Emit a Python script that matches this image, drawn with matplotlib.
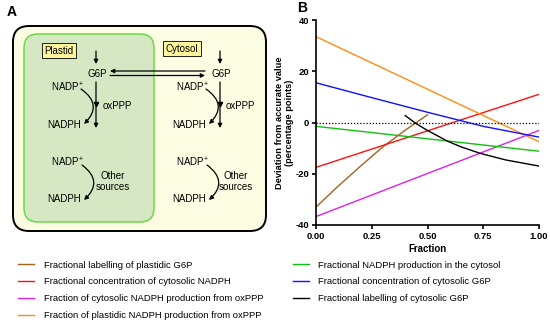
import matplotlib
matplotlib.use('Agg')
import matplotlib.pyplot as plt
from matplotlib.patches import FancyBboxPatch, FancyArrowPatch

plt.rcParams['font.family'] = ['Liberation Sans', 'DejaVu Sans']
plt.rcParams['mathtext.fontset'] = 'custom'
plt.rcParams['mathtext.rm'] = 'Liberation Sans'
plt.rcParams['mathtext.default'] = 'regular'
plt.rcParams['axes.unicode_minus'] = False

# ---- data ----
x_brown = [0.0, 0.1, 0.2, 0.3, 0.4, 0.5]
y_brown = [-33.0, -24.8, -17.0, -9.5, -3.0, 3.0]
x_red = [0.0, 1.0]
y_red = [-17.5, 11.0]
x_magenta = [0.0, 1.0]
y_magenta = [-36.7, -3.1]
x_orange = [0.0, 1.0]
y_orange = [33.5, -7.5]
x_green = [0.0, 1.0]
y_green = [-1.5, -11.2]
x_blue = [0.0, 0.25, 0.5, 0.75, 1.0]
y_blue = [15.5, 9.7, 4.0, -1.5, -5.7]
x_black = [0.40, 0.45, 0.50, 0.59, 0.65, 0.735, 0.85, 1.0]
y_black = [2.7, -0.5, -3.1, -7.3, -9.5, -12.0, -14.6, -17.0]

labels_left = ['Fractional labelling of plastidic G6P',
               'Fractional concentration of cytosolic NADPH',
               'Fraction of cytosolic NADPH production from oxPPP',
               'Fraction of plastidic NADPH production from oxPPP']
labels_right = ['Fractional NADPH production in the cytosol',
                'Fractional concentration of cytosolic G6P',
                'Fractional labelling of cytosolic G6P']

xticks = [0.0, 0.25, 0.5, 0.75, 1.0]
xticklabels = ['0.00', '0.25', '0.50', '0.75', '1.00']
yticks = [-40, -20, 0, 20, 40]

W, H = 550, 323
fig = plt.figure(figsize=(5.5, 3.23), dpi=100)

# ---- panel A: diagram drawn in pixel coordinates ----
ax0 = fig.add_axes([0, 0, 1, 1], zorder=0)
ax0.set_xlim(0, W)
ax0.set_ylim(H, 0)
ax0.axis('off')

ax0.text(7, 12, 'A', fontsize=10, fontweight='bold', va='center', ha='left')
ax0.text(297, 8, 'B', fontsize=10, fontweight='bold', va='center', ha='left')

outer = FancyBboxPatch((13, 26), 253, 205, boxstyle='round,pad=0,rounding_size=16',
                       fc='#fcfce2', ec='black', lw=1.4)
ax0.add_patch(outer)
inner = FancyBboxPatch((24, 34), 130, 188, boxstyle='round,pad=0,rounding_size=14',
                       fc='#d5e8c3', ec='#6ad84a', lw=1.1)
ax0.add_patch(inner)

ax0.text(59, 50.5, 'Plastid', fontsize=7, ha='center', va='center',
         bbox=dict(boxstyle='square,pad=0.3', fc='#fff59c', ec='black', lw=0.6))
ax0.text(182, 48.5, 'Cytosol', fontsize=7, ha='center', va='center',
         bbox=dict(boxstyle='square,pad=0.3', fc='#fff59c', ec='black', lw=0.6))

fs = 7
arrow_kw = dict(arrowstyle='-|>', color='black', lw=0.9, mutation_scale=6,
                shrinkA=0, shrinkB=0)


def pathway(cx, lx, tx):
    # incoming arrow and G6P
    ax0.annotate('', xy=(cx, 64), xytext=(cx, 51), arrowprops=arrow_kw)
    ax0.text(cx + 1, 74, 'G6P', fontsize=fs, ha='center', va='center')
    # oxPPP branch
    ax0.annotate('', xy=(cx, 128), xytext=(cx, 82), arrowprops=arrow_kw)
    ax0.plot([cx], [104], marker='v', ms=3, color='black')
    ax0.text(lx, 87, 'NADP$^{+}$', fontsize=fs, ha='center', va='center')
    ax0.text(lx - 3, 124.5, 'NADPH', fontsize=fs, ha='center', va='center')
    ax0.add_patch(FancyArrowPatch((lx + 14, 89), (lx + 17, 124),
                                  connectionstyle='arc3,rad=-0.6', **arrow_kw))
    ax0.text(tx, 106, 'oxPPP', fontsize=fs, ha='center', va='center')
    # other sources
    ax0.text(lx, 162, 'NADP$^{+}$', fontsize=fs, ha='center', va='center')
    ax0.text(lx - 3, 199.5, 'NADPH', fontsize=fs, ha='center', va='center')
    ax0.add_patch(FancyArrowPatch((lx + 15, 165), (lx + 17, 200),
                                  connectionstyle='arc3,rad=-0.6', **arrow_kw))
    ax0.text(tx - 4, 181.5, 'Other\nsources', fontsize=fs, ha='center', va='center',
             linespacing=1.05)


pathway(96, 67, 117)
pathway(220, 192, 240)

# G6P exchange
ax0.annotate('', xy=(110, 71), xytext=(205, 71), arrowprops=arrow_kw)
ax0.annotate('', xy=(205, 75.5), xytext=(110, 75.5), arrowprops=arrow_kw)

# ---- panel B ----
ax = fig.add_axes([316 / W, 1 - 225 / H, 223 / W, 205 / H], zorder=1)
ax.patch.set_alpha(0)
lw = 1.0
l_brown, = ax.plot(x_brown, y_brown, color='#a5631c', lw=lw)
l_red, = ax.plot(x_red, y_red, color='#ff1010', lw=lw)
l_magenta, = ax.plot(x_magenta, y_magenta, color='#e020e8', lw=lw)
l_orange, = ax.plot(x_orange, y_orange, color='#ff8c10', lw=lw)
l_green, = ax.plot(x_green, y_green, color='#10c010', lw=lw)
l_blue, = ax.plot(x_blue, y_blue, color='#1010ff', lw=lw)
l_black, = ax.plot(x_black, y_black, color='black', lw=lw)
ax.plot([0, 1], [0, 0], color='black', lw=0.9, ls=(0, (1, 1.5)))

ax.set_xlim(0, 1)
ax.set_ylim(-40, 40)
ax.set_xticks(xticks)
ax.set_xticklabels(xticklabels)
ax.set_yticks(yticks)
for s in ['top', 'right']:
    ax.spines[s].set_visible(False)
for s in ['left', 'bottom']:
    ax.spines[s].set_linewidth(1.2)
ax.tick_params(direction='out', length=3, width=1.2, labelsize=6.8, pad=2)
for t in ax.get_xticklabels() + ax.get_yticklabels():
    t.set_fontweight('bold')
ax.set_xlabel('Fraction', fontsize=7, fontweight='bold', labelpad=2)
ax.set_ylabel('Deviation from accurate value\n(percentage points)', fontsize=6.7,
              fontweight='bold', labelpad=1)

# ---- legends ----
leg_kw = dict(frameon=False, fontsize=6.8, handlelength=1.7, handletextpad=1.0,
              labelspacing=0.84, borderpad=0, borderaxespad=0, loc='upper left')
fig.legend([l_brown, l_red, l_magenta, l_orange], labels_left,
           bbox_to_anchor=(18 / W, 1 - 260.5 / H), **leg_kw)
fig.legend([l_green, l_blue, l_black], labels_right,
           bbox_to_anchor=(293 / W, 1 - 260.5 / H), **leg_kw)

fig.savefig('out.png', dpi=100)
